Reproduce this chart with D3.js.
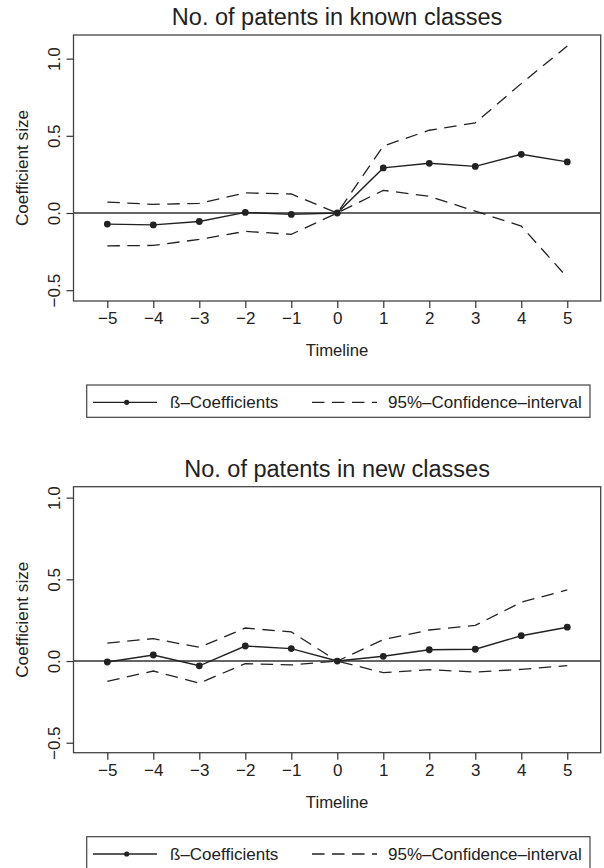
<!DOCTYPE html>
<html>
<head>
<meta charset="utf-8">
<script src="https://cdn.jsdelivr.net/npm/d3@7"></script>
<style>
  body { margin: 0; background: #fff; }
  text { font-family: "Liberation Sans", Arial, sans-serif; fill: #222; }
</style>
</head>
<body>
<div id="chart"></div>
<script>
// event-study coefficients
const timeline = [-5, -4, -3, -2, -1, 0, 1, 2, 3, 4, 5];

const knownCoef  = [-0.072, -0.077, -0.055, 0.004, -0.009, 0, 0.292, 0.322, 0.302, 0.380, 0.331];
const knownUpper = [0.071, 0.056, 0.063, 0.130, 0.123, 0, 0.434, 0.536, 0.584, 0.838, 1.082];
const knownLower = [-0.213, -0.210, -0.171, -0.119, -0.138, 0, 0.147, 0.108, 0.012, -0.085, -0.417];

const newCoef  = [-0.006, 0.037, -0.029, 0.092, 0.076, 0, 0.029, 0.069, 0.072, 0.155, 0.207];
const newUpper = [0.110, 0.137, 0.084, 0.202, 0.178, 0, 0.131, 0.190, 0.218, 0.360, 0.435];
const newLower = [-0.124, -0.061, -0.135, -0.016, -0.024, 0, -0.071, -0.053, -0.067, -0.051, -0.028];

const yTicks = [-0.5, 0, 0.5, 1.0];
const titles = ["No. of patents in known classes", "No. of patents in new classes"];
const legendLabels = ["ß–Coefficients", "95%–Confidence–interval"];

const W = 604, H = 868;
const svg = d3.select("#chart").append("svg")
    .attr("width", W).attr("height", H)
    .style("display", "block");

// both panels share the same box, only shifted down; y limits differ a bit
const panels = [
  { top: 35,    title: titles[0], coef: knownCoef, upper: knownUpper, lower: knownLower, ydom: [-0.570, 1.153] },
  { top: 486.7, title: titles[1], coef: newCoef,   upper: newUpper,   lower: newLower,   ydom: [-0.561, 1.067] }
];

const left = 73.5, right = 600.7, boxH = 266;
const x = d3.scaleLinear().domain([-5.735, 5.727]).range([left, right]);
const ink = "#222";

panels.forEach(p => {
  const g = svg.append("g").attr("transform", `translate(0,${p.top})`);
  const y = d3.scaleLinear().domain(p.ydom).range([boxH, 0]);

  // title
  g.append("text")
    .attr("x", (left + right) / 2).attr("y", -10)
    .attr("text-anchor", "middle")
    .style("font-size", "23.5px")
    .text(p.title);

  // zero line
  g.append("line")
    .attr("x1", left).attr("x2", right)
    .attr("y1", y(0)).attr("y2", y(0))
    .attr("stroke", "#333").attr("stroke-width", 1.5);

  const line = d3.line().x((d, i) => x(timeline[i])).y(d => y(d));

  // confidence bands
  [p.upper, p.lower].forEach(arr => {
    g.append("path")
      .attr("d", line(arr))
      .attr("fill", "none")
      .attr("stroke", ink).attr("stroke-width", 1.3)
      .attr("stroke-dasharray", "12.5,7.5");
  });

  // coefficients
  g.append("path")
    .attr("d", line(p.coef))
    .attr("fill", "none")
    .attr("stroke", ink).attr("stroke-width", 1.4);
  g.selectAll("circle.pt").data(p.coef).enter().append("circle")
    .attr("class", "pt")
    .attr("cx", (d, i) => x(timeline[i]))
    .attr("cy", d => y(d))
    .attr("r", 3.4)
    .attr("fill", ink);

  // box
  g.append("rect")
    .attr("x", left).attr("y", 0)
    .attr("width", right - left).attr("height", boxH)
    .attr("fill", "none").attr("stroke", "#444").attr("stroke-width", 1.3);

  // x axis
  const xa = g.append("g").attr("transform", `translate(0,${boxH})`)
    .call(d3.axisBottom(x).tickValues(timeline).tickSize(7).tickSizeOuter(0).tickFormat(d3.format("d")));
  xa.select(".domain").remove();
  xa.selectAll("line").attr("stroke", "#333").attr("stroke-width", 1.2);
  xa.selectAll("text")
    .attr("y", 23).attr("dy", null)
    .style("font-size", "17px").attr("fill", ink);

  // y axis, labels rotated like R's default las=0
  const ya = g.append("g").attr("transform", `translate(${left},0)`)
    .call(d3.axisLeft(y).tickValues(yTicks).tickSize(7).tickSizeOuter(0).tickFormat(d3.format(".1f")));
  ya.select(".domain").remove();
  ya.selectAll("line").attr("stroke", "#333").attr("stroke-width", 1.2);
  ya.selectAll("text")
    .attr("x", null).attr("dy", null)
    .attr("text-anchor", "middle")
    .attr("transform", "translate(-13.5,0) rotate(-90)")
    .style("font-size", "17px").attr("fill", ink);

  // axis titles
  g.append("text")
    .attr("x", (left + right) / 2).attr("y", boxH + 55)
    .attr("text-anchor", "middle")
    .style("font-size", "16.7px")
    .text("Timeline");
  g.append("text")
    .attr("transform", `translate(28,${boxH / 2}) rotate(-90)`)
    .attr("text-anchor", "middle")
    .style("font-size", "17.2px")
    .text("Coefficient size");

  // legend
  const lg = g.append("g").attr("transform", `translate(0,${boxH + 84})`);
  lg.append("rect")
    .attr("x", 86.7).attr("y", 0)
    .attr("width", 590 - 86.7).attr("height", 32.3)
    .attr("fill", "none").attr("stroke", "#444").attr("stroke-width", 1.2);
  lg.append("line")
    .attr("x1", 93).attr("x2", 157).attr("y1", 17.3).attr("y2", 17.3)
    .attr("stroke", ink).attr("stroke-width", 1.3);
  lg.append("circle").attr("cx", 126.7).attr("cy", 17.3).attr("r", 2.6).attr("fill", ink);
  lg.append("text").attr("x", 170).attr("y", 23)
    .style("font-size", "17px").text(legendLabels[0]);
  lg.append("line")
    .attr("x1", 312).attr("x2", 377).attr("y1", 17.3).attr("y2", 17.3)
    .attr("stroke", ink).attr("stroke-width", 1.3)
    .attr("stroke-dasharray", "12.5,7.5");
  lg.append("text").attr("x", 388).attr("y", 23)
    .style("font-size", "17px").text(legendLabels[1]);
});
</script>
</body>
</html>
